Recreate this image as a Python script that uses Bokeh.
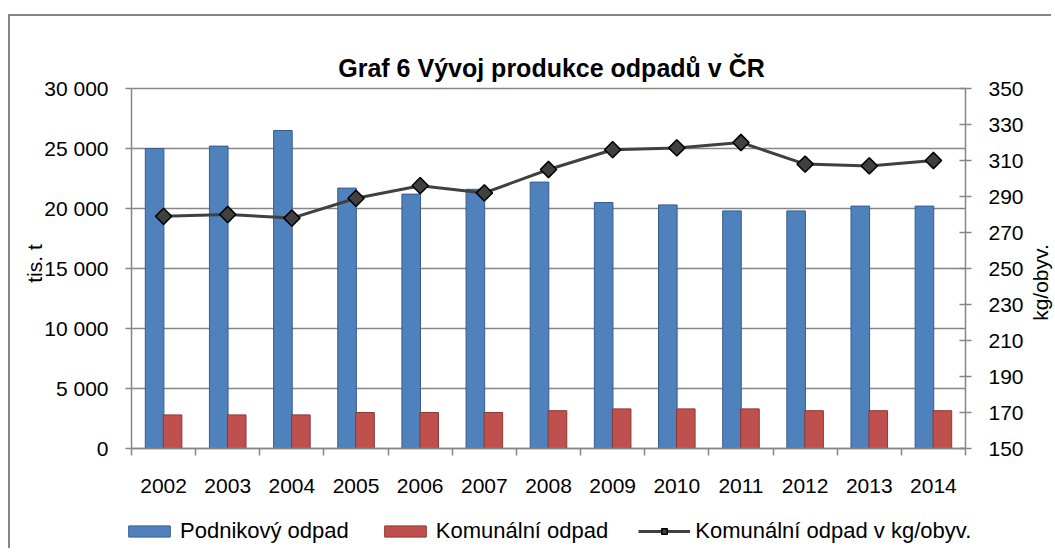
import math
from bokeh.plotting import figure
from bokeh.models import (ColumnDataSource, Range1d, LinearAxis, FixedTicker,
                          Legend, LegendItem, Label)
from bokeh.transform import dodge
from bokeh.embed import file_html
from bokeh.resources import INLINE

years = ["2002", "2003", "2004", "2005", "2006", "2007", "2008",
         "2009", "2010", "2011", "2012", "2013", "2014"]
podnikovy = [25000, 25200, 26500, 21700, 21200, 21600, 22200,
             20500, 20300, 19800, 19800, 20200, 20200]
komunalni = [2800, 2800, 2800, 3000, 3000, 3000, 3150,
             3300, 3300, 3300, 3150, 3150, 3150]
kg_obyv = [279, 280, 278, 289, 296, 292, 305, 316, 317, 320, 308, 307, 310]

left_ticks = [0, 5000, 10000, 15000, 20000, 25000, 30000]
left_labels = ["0", "5 000", "10 000", "15 000", "20 000", "25 000", "30 000"]
right_ticks = [150, 170, 190, 210, 230, 250, 270, 290, 310, 330, 350]

title_text = "Graf 6 Vývoj produkce odpadů v ČR"
left_title = "tis. t"
right_title = "kg/obyv."

FONT = "Liberation Sans"
GRAY = "#868686"

n = len(years)
idx = list(range(n))
src = ColumnDataSource(dict(x=idx, pod=podnikovy, kom=komunalni, kg=kg_obyv))

# layout geometry (pixels): the frame fills the whole canvas, axes are fixed inside it
W, H = 1043, 534
PX_L, PX_R, PX_T, PX_B = 121, 88, 72, 102      # plot-area margins inside canvas
plot_w, plot_h = W - PX_L - PX_R, H - PX_T - PX_B
ux = n / plot_w
x0, x1 = -0.5 - PX_L * ux, n - 0.5 + PX_R * ux
ymax = left_ticks[-1]
uy = ymax / plot_h
y0, y1 = -PX_B * uy, ymax + PX_T * uy
rmin, rmax = right_ticks[0], right_ticks[-1]
ury = (rmax - rmin) / plot_h
r0, r1_ = rmin - PX_B * ury, rmax + PX_T * ury

p = figure(width=W, height=H, output_backend="svg", toolbar_location=None,
           x_axis_location=None, y_axis_location=None,
           min_border=0, min_border_left=0, min_border_right=0,
           min_border_top=0, min_border_bottom=0,
           x_range=Range1d(x0, x1), y_range=Range1d(y0, y1))
p.title.visible = False
p.margin = (16, 0, 0, 10)
p.styles = {"box-shadow": "-2px -2px 0 0 #868686"}
p.extra_y_ranges = {"right": Range1d(r0, r1_)}
p.outline_line_color = None
p.background_fill_color = "white"
p.border_fill_color = "white"
p.xgrid.visible = False
p.ygrid.visible = False

# horizontal gridlines at the left-axis ticks
p.segment(x0=[-0.5] * len(left_ticks), x1=[n - 0.5] * len(left_ticks),
          y0=left_ticks, y1=left_ticks, line_color=GRAY, line_width=1.5)

# bars
rb1 = p.vbar(x=dodge("x", -0.14), top="pod", width=0.29, source=src,
             fill_color="#4F81BD", line_color="#385D8A", line_width=1)
rb2 = p.vbar(x=dodge("x", 0.14), top="kom", width=0.29, source=src,
             fill_color="#C0504D", line_color="#8C3836", line_width=1)
rl = p.line(x="x", y="kg", source=src, y_range_name="right",
            line_color="#404040", line_width=3)
rm = p.scatter(x="x", y="kg", source=src, y_range_name="right",
               marker="square", angle=math.pi / 4, size=11.5,
               fill_color="#404040", line_color="black", line_width=1.5)

def style_axis(ax):
    ax.axis_line_color = GRAY
    ax.axis_line_width = 1.5
    ax.major_tick_line_color = GRAY
    ax.major_tick_line_width = 1.5
    ax.minor_tick_line_color = None
    ax.major_label_text_font = FONT
    ax.major_label_text_font_size = "21px"
    ax.major_label_text_color = "black"

# x axis at y = 0, ticks on category boundaries
xa = LinearAxis(fixed_location=0, bounds=(-0.5, n - 0.5),
                ticker=FixedTicker(ticks=idx, minor_ticks=[i - 0.5 for i in range(n + 1)]))
style_axis(xa)
xa.major_label_overrides = {i: y for i, y in zip(idx, years)}
xa.major_tick_line_color = None
xa.major_tick_out = 7
xa.major_tick_in = 0
xa.minor_tick_line_color = GRAY
xa.minor_tick_line_width = 1.5
xa.minor_tick_out = 7
xa.minor_tick_in = 0
xa.major_label_standoff = 23
p.add_layout(xa, "below")

# left axis
ya = LinearAxis(fixed_location=-0.5, bounds=(0, ymax), ticker=FixedTicker(ticks=left_ticks))
style_axis(ya)
ya.major_label_overrides = {t: l for t, l in zip(left_ticks, left_labels)}
ya.major_tick_out = 6
ya.major_tick_in = 0
ya.major_label_standoff = 17
p.add_layout(ya, "left")

# right axis
ra = LinearAxis(y_range_name="right", fixed_location=n - 0.5, bounds=(rmin, rmax),
                ticker=FixedTicker(ticks=right_ticks))
style_axis(ra)
ra.major_tick_out = 6
ra.major_tick_in = 6
ra.major_label_standoff = 17
p.add_layout(ra, "right")

# texts (screen units measured from the bottom-left of the canvas)
p.add_layout(Label(x=541, y=H - 51, x_units="screen", y_units="screen",
                   text=title_text, text_font=FONT, text_font_size="25px",
                   text_font_style="bold", text_color="black",
                   text_align="center", text_baseline="alphabetic"))
p.add_layout(Label(x=24, y=H - 247, x_units="screen", y_units="screen",
                   text=left_title, text_font=FONT, text_font_size="21px",
                   text_color="black", angle=math.pi / 2,
                   text_align="center", text_baseline="middle"))
p.add_layout(Label(x=1030, y=H - 266, x_units="screen", y_units="screen",
                   text=right_title, text_font=FONT, text_font_size="21px",
                   text_color="black", angle=math.pi / 2,
                   text_align="center", text_baseline="middle"))

# legend
legend = Legend(items=[
    LegendItem(label="Podnikový odpad", renderers=[rb1]),
    LegendItem(label="Komunální odpad", renderers=[rb2]),
    LegendItem(label="Komunální odpad v kg/obyv.", renderers=[rl, rm]),
], orientation="horizontal", location=(113, 6))
legend.glyph_width = 52
legend.glyph_height = 14
legend.label_standoff = 5
legend.spacing = 30
legend.padding = 0
legend.margin = 0
legend.border_line_color = None
legend.background_fill_alpha = 0
legend.label_text_font = FONT
legend.label_text_font_size = "22px"
legend.label_text_color = "black"
p.add_layout(legend, "center")

open("out.html", "w").write(file_html(p, INLINE))
